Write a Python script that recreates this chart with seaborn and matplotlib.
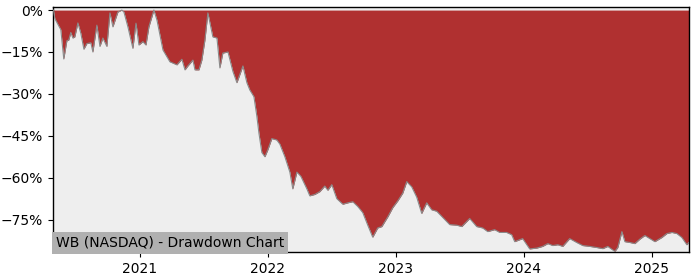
import numpy as np
import pandas as pd
import matplotlib
matplotlib.use("Agg")
import matplotlib.pyplot as plt
import matplotlib.dates as mdates
from matplotlib.ticker import FuncFormatter
import seaborn as sns

# Fractional years and drawdown values in percent
years = [2020.326, 2020.336, 2020.359, 2020.383, 2020.406, 2020.430, 2020.445, 2020.461,
         2020.477, 2020.492, 2020.516, 2020.539, 2020.563, 2020.586, 2020.617, 2020.633,
         2020.664, 2020.688, 2020.711, 2020.742, 2020.766, 2020.789, 2020.828, 2020.859,
         2020.875, 2020.906, 2020.945, 2020.969, 2020.992, 2021.023, 2021.047, 2021.070,
         2021.109, 2021.133, 2021.180, 2021.234, 2021.289, 2021.328, 2021.352, 2021.375,
         2021.414, 2021.430, 2021.461, 2021.484, 2021.508, 2021.531, 2021.570, 2021.602,
         2021.625, 2021.648, 2021.688, 2021.727, 2021.758, 2021.805, 2021.836, 2021.859,
         2021.891, 2021.914, 2021.930, 2021.953, 2021.977, 2022.000, 2022.031, 2022.070,
         2022.094, 2022.133, 2022.172, 2022.195, 2022.227, 2022.258, 2022.305, 2022.328,
         2022.367, 2022.406, 2022.445, 2022.469, 2022.500, 2022.539, 2022.586, 2022.625,
         2022.664, 2022.703, 2022.742, 2022.781, 2022.820, 2022.859, 2022.891, 2022.938,
         2022.977, 2023.016, 2023.055, 2023.086, 2023.125, 2023.164, 2023.203, 2023.242,
         2023.281, 2023.320, 2023.352, 2023.422, 2023.477, 2023.516, 2023.578, 2023.633,
         2023.680, 2023.719, 2023.773, 2023.813, 2023.867, 2023.906, 2023.930, 2023.992,
         2024.047, 2024.102, 2024.148, 2024.188, 2024.227, 2024.266, 2024.305, 2024.359,
         2024.414, 2024.461, 2024.516, 2024.570, 2024.617, 2024.656, 2024.711, 2024.734,
         2024.766, 2024.789, 2024.828, 2024.867, 2024.906, 2024.945, 2024.984, 2025.023,
         2025.078, 2025.117, 2025.156, 2025.195, 2025.234, 2025.273, 2025.289]
drawdown = [0.0, -3.0, -5.0, -7.0, -17.5, -11.0, -10.7, -8.0,
            -10.0, -9.6, -4.6, -8.3, -14.0, -12.0, -11.7, -15.0,
            -5.4, -13.0, -10.0, -13.0, -1.0, -6.0, -0.7, 0.0,
            -0.7, -6.0, -13.7, -4.7, -12.5, -11.3, -12.5, -6.0,
            0.0, -3.6, -14.3, -18.5, -19.6, -17.6, -21.4, -20.0,
            -17.9, -21.4, -21.4, -17.9, -10.7, -1.0, -9.6, -10.0,
            -20.7, -15.4, -15.0, -22.0, -26.0, -20.0, -26.0, -28.6,
            -31.0, -38.0, -44.0, -51.0, -52.5, -50.0, -46.0, -46.5,
            -48.0, -52.5, -58.0, -64.0, -58.0, -59.5, -64.0, -66.5,
            -66.0, -65.0, -63.0, -64.5, -62.5, -67.5, -69.5, -69.0,
            -68.6, -70.3, -72.5, -77.0, -81.3, -78.0, -77.5, -74.0,
            -70.7, -68.3, -65.5, -61.4, -63.3, -67.0, -72.8, -69.0,
            -71.5, -72.0, -73.5, -76.8, -77.0, -77.5, -74.6, -77.5,
            -78.0, -79.3, -78.6, -79.6, -79.6, -80.4, -82.9, -81.8,
            -85.5, -85.2, -84.6, -83.6, -84.3, -84.0, -84.6, -81.8,
            -83.2, -84.3, -84.6, -85.0, -85.4, -84.6, -86.4, -85.0,
            -79.3, -82.9, -83.2, -83.6, -82.0, -80.7, -81.8, -82.9,
            -81.4, -80.0, -79.6, -80.0, -81.4, -84.0, -83.2]

title_text = "WB (NASDAQ) - Drawdown Chart"
y_ticks = [0, -15, -30, -45, -60, -75]


def frac_year_to_date(y):
    yr = int(np.floor(y))
    start = pd.Timestamp(year=yr, month=1, day=1)
    end = pd.Timestamp(year=yr + 1, month=1, day=1)
    return start + (end - start) * (y - yr)


df = pd.DataFrame({"date": [frac_year_to_date(y) for y in years],
                   "drawdown": drawdown})

fig = plt.figure(figsize=(7, 2.8), dpi=100)
ax = fig.add_axes([0.0757, 0.1, 0.9086, 0.875])
ax.set_facecolor("#eeeeee")

ax.fill_between(df["date"], 0, df["drawdown"], color="#b03030", linewidth=0, zorder=2)
sns.lineplot(data=df, x="date", y="drawdown", ax=ax, color="#8a8a8a",
             linewidth=0.8, zorder=3)

ax.set_xlim(frac_year_to_date(2020.322), frac_year_to_date(2025.29))
ax.set_ylim(-86.6, 1.1)
ax.set_yticks(y_ticks)
ax.yaxis.set_major_formatter(FuncFormatter(lambda v, p: f"{int(v)}%".replace("-", "\u2212")))
ax.xaxis.set_major_locator(mdates.YearLocator())
ax.xaxis.set_major_formatter(mdates.DateFormatter("%Y"))
ax.tick_params(labelsize=10, length=3.5)
ax.set_xlabel("")
ax.set_ylabel("")
for s in ax.spines.values():
    s.set_color("black")
    s.set_linewidth(1)

ax.text(0.0045, 0.009, title_text, transform=ax.transAxes, fontsize=10,
        ha="left", va="bottom", zorder=5,
        bbox=dict(facecolor="#b0b0b0", edgecolor="none", pad=2.8))

fig.savefig("out.png", dpi=100)
